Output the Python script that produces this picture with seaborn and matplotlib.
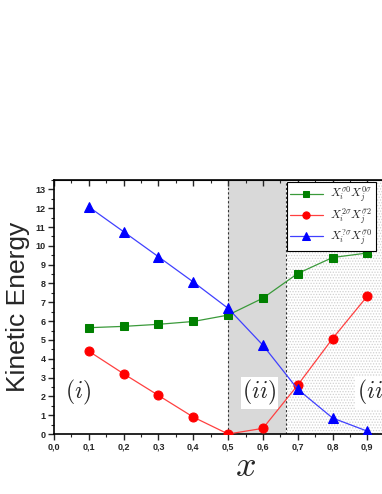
import numpy as np
import pandas as pd
import matplotlib
matplotlib.use("Agg")
import matplotlib.pyplot as plt
import seaborn as sns
from matplotlib.ticker import MultipleLocator, FuncFormatter

# dados
x_vals = [0.1, 0.2, 0.3, 0.4, 0.5, 0.6, 0.7, 0.8, 0.9]
e_sigma0 = [5.65, 5.72, 5.83, 5.98, 6.32, 7.22, 8.53, 9.38, 9.62]
e_2sigma = [4.40, 3.20, 2.05, 0.90, 0.00, 0.30, 2.60, 5.07, 7.33]
e_qsigma = [12.07, 10.75, 9.42, 8.08, 6.68, 4.72, 2.38, 0.85, 0.15]
labels = [r"$X_i^{\sigma 0}X_j^{0\sigma}$",
          r"$X_i^{2\sigma}X_j^{\bar{\sigma} 2}$",
          r"$X_i^{?\sigma}X_j^{\bar{\sigma} 0}$"]
regions = [r"$(i)$", r"$(ii)$", r"$(iii)$"]
bounds = [0.5, 2 / 3]

sns.set_style("ticks")
plt.rcParams["mathtext.fontset"] = "cm"
plt.rcParams["hatch.linewidth"] = 0.6

fig = plt.figure(figsize=(3.82, 4.94), dpi=100)
ax = fig.add_axes([54 / 382, 60 / 494, 383 / 382, 254 / 494])

# regioes sombreadas
ax.axvspan(bounds[0], bounds[1], color="#d9d9d9", lw=0, zorder=0)
ax.axvspan(bounds[1], 1.1, facecolor="white", hatch="......", edgecolor="#d0d0d0", lw=0, zorder=0)
for b in bounds:
    ax.axvline(b, color="#333333", lw=0.8, ls=(0, (2, 2)), zorder=1)

series = [(e_sigma0, "#008000", "#3a9a3a", "s", 5.5),
          (e_2sigma, "#ff0000", "#ff4040", "o", 6.5),
          (e_qsigma, "#0000ff", "#4040ff", "^", 7)]
for (vals, mc, lc, mk, ms), lab in zip(series, labels):
    df = pd.DataFrame({"x": x_vals, "E": vals})
    sns.lineplot(data=df, x="x", y="E", ax=ax, color=lc, lw=0.9,
                 marker=mk, markersize=ms, markerfacecolor=mc,
                 markeredgecolor=mc, label=lab, zorder=3)

ax.set_xlim(0, 1.1)
ax.set_ylim(0, 13.5)
ax.xaxis.set_major_locator(MultipleLocator(0.1))
ax.xaxis.set_minor_locator(MultipleLocator(0.05))
ax.yaxis.set_major_locator(MultipleLocator(1))
ax.yaxis.set_minor_locator(MultipleLocator(0.5))
ax.xaxis.set_major_formatter(FuncFormatter(
    lambda v, p: f"{v:.1f}".replace(".", ",") if v < 0.95 else ""))
ax.tick_params(axis="both", which="major", direction="out", length=4, width=1,
               labelsize=6.5, pad=2)
ax.tick_params(axis="both", which="minor", direction="out", length=2, width=0.8)
for lbl in ax.get_xticklabels() + ax.get_yticklabels():
    lbl.set_fontfamily("Liberation Sans")
    lbl.set_fontweight("bold")

# ticks do topo para dentro
sec = ax.secondary_xaxis("top")
sec.xaxis.set_major_locator(MultipleLocator(0.1))
sec.xaxis.set_minor_locator(MultipleLocator(0.05))
sec.tick_params(which="major", direction="in", length=4, width=1, labeltop=False)
sec.tick_params(which="minor", direction="in", length=2, width=0.8)
ax.tick_params(axis="x", which="both", top=False)

for sp in ax.spines.values():
    sp.set_linewidth(1.2)
    sp.set_color("black")

ax.set_ylabel("Kinetic Energy", fontsize=19, family="Liberation Sans", labelpad=4)
ax.set_xlabel(r"$x$", fontsize=26, labelpad=-2)

# rotulos das regioes
for xpos, txt in zip([0.07, 0.59, 0.93], regions):
    ax.text(xpos, 2.2, txt, fontsize=17, ha="center", va="center",
            bbox=dict(facecolor="white", edgecolor="none", pad=1), zorder=4)

leg = ax.legend(loc="upper left", bbox_to_anchor=(287 / 382, 1 - 182 / 494),
                bbox_transform=fig.transFigure, fontsize=8.5, frameon=True,
                fancybox=False, edgecolor="black", framealpha=1,
                borderpad=0.25, labelspacing=0.05, handlelength=2.8,
                handletextpad=0.6, borderaxespad=0, markerscale=0.8)
leg.get_frame().set_linewidth(0.8)

fig.savefig("out.png", dpi=100)
